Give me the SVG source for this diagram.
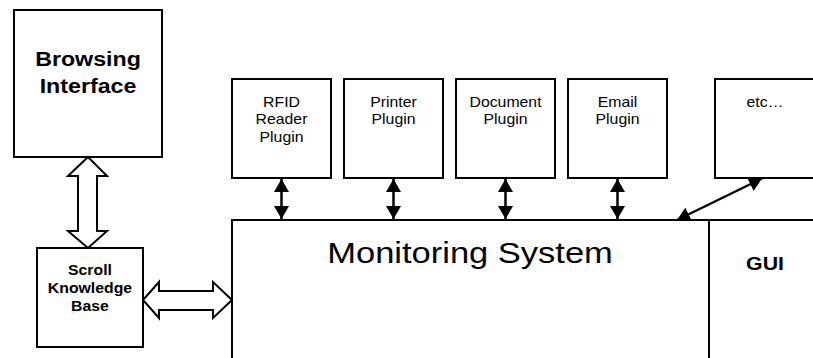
<svg xmlns="http://www.w3.org/2000/svg" width="813" height="358" viewBox="0 0 813 358">
<style>
  .box { fill: #fff; stroke: #000; stroke-width: 2; }
  .hollow { fill: #fff; stroke: #000; stroke-width: 2; stroke-linejoin: miter; }
  .conn { stroke: #000; stroke-width: 2.5; fill: none; }
  text { font-family: "Liberation Sans", Arial, sans-serif; fill: #000; text-anchor: middle; }
  .b { font-weight: bold; }
  .p { font-size: 14px; }
</style>
<defs>
  <marker id="ah" markerUnits="userSpaceOnUse" markerWidth="15" markerHeight="15" refX="13" refY="7.5" orient="auto-start-reverse" viewBox="0 0 15 15">
    <path d="M0,0 L13,7.5 L0,15 z" fill="#000"/>
  </marker>
</defs>

<g id="monitoring">
  <rect class="box" x="232" y="220" width="620" height="200"/>
  <text transform="translate(470,263) scale(1.15,1)" style="font-size:30px">Monitoring System</text>
</g>
<g id="gui">
  <line x1="709" y1="220" x2="709" y2="370" stroke="#000" stroke-width="2"/>
  <text class="b" transform="translate(765,270) scale(1.12,1)" style="font-size:19px">GUI</text>
</g>

<g id="browsing">
  <rect class="box" x="14" y="10" width="148" height="147"/>
  <text class="b" transform="translate(88,0) scale(1.16,1)" style="font-size:20px"><tspan x="0" y="66.5">Browsing</tspan><tspan x="0" y="93.5">Interface</tspan></text>
</g>

<g id="scroll">
  <rect class="box" x="37" y="248" width="106" height="99"/>
  <text class="b" transform="translate(90,0) scale(1.13,1)" style="font-size:14px"><tspan x="0" y="275">Scroll</tspan><tspan x="0" y="293">Knowledge</tspan><tspan x="0" y="311.5">Base</tspan></text>
</g>

<g id="rfid">
  <rect class="box" x="232" y="79" width="99" height="99"/>
  <text class="p" transform="translate(281.5,0) scale(1.13,1)"><tspan x="0" y="107">RFID</tspan><tspan x="0" y="124.5">Reader</tspan><tspan x="0" y="142">Plugin</tspan></text>
</g>
<g id="printer">
  <rect class="box" x="344" y="79" width="99" height="99"/>
  <text class="p" transform="translate(393.5,0) scale(1.13,1)"><tspan x="0" y="107">Printer</tspan><tspan x="0" y="124.5">Plugin</tspan></text>
</g>
<g id="document">
  <rect class="box" x="456" y="79" width="99" height="99"/>
  <text class="p" transform="translate(505.5,0) scale(1.13,1)"><tspan x="0" y="107">Document</tspan><tspan x="0" y="124.5">Plugin</tspan></text>
</g>
<g id="email">
  <rect class="box" x="568" y="79" width="99" height="99"/>
  <text class="p" transform="translate(617.5,0) scale(1.13,1)"><tspan x="0" y="107">Email</tspan><tspan x="0" y="124.5">Plugin</tspan></text>
</g>
<g id="etc">
  <rect class="box" x="715" y="79" width="120" height="99"/>
  <text class="p" transform="translate(765,107) scale(1.13,1)">etc…</text>
</g>

<g id="connectors">
  <polygon class="hollow" points="88,157 107,176 97,176 97,231 107,231 88,248 68,231 78,231 78,176 68,176"/>
  <polygon class="hollow" points="143,300 159,282 159,291 213,291 213,282 232,300 213,318 213,310 159,310 159,318"/>
  <line class="conn" x1="281.5" y1="179" x2="281.5" y2="219" marker-start="url(#ah)" marker-end="url(#ah)"/>
  <line class="conn" x1="393.5" y1="179" x2="393.5" y2="219" marker-start="url(#ah)" marker-end="url(#ah)"/>
  <line class="conn" x1="505.5" y1="179" x2="505.5" y2="219" marker-start="url(#ah)" marker-end="url(#ah)"/>
  <line class="conn" x1="617.5" y1="179" x2="617.5" y2="219" marker-start="url(#ah)" marker-end="url(#ah)"/>
  <line class="conn" x1="762" y1="178.5" x2="677" y2="220" marker-start="url(#ah)" marker-end="url(#ah)"/>
</g>
</svg>
